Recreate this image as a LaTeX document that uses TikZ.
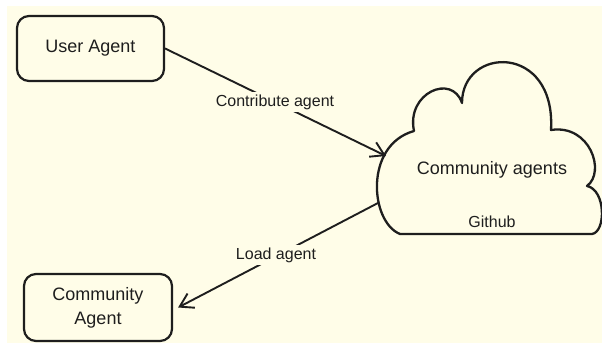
\documentclass[tikz,border=0pt]{standalone}
\usepackage{fontspec}
\setmainfont{Liberation Sans}
\usetikzlibrary{arrows.meta}
\definecolor{cream}{RGB}{255,253,232}
\definecolor{ink}{RGB}{30,30,30}
\begin{document}
\begin{tikzpicture}[x=1pt,y=-1pt,
  boxnode/.style={draw=ink, line width=2.2pt, rounded corners=12pt, align=center,
    font=\fontsize{18}{24}\selectfont, text=ink, inner sep=0pt},
  maintext/.style={font=\fontsize{18}{22}\selectfont, text=ink, inner sep=0pt},
  lbl/.style={fill=cream, font=\fontsize{16}{18}\selectfont, text=ink, inner sep=3pt},
  conn/.style={draw=ink, line width=1.9pt, line cap=round,
    -{Straight Barb[length=13pt,width=16pt,line width=1.9pt]}},
  cloudline/.style={draw=ink, line width=2.3pt, line join=round}]
\useasboundingbox (0,0) rectangle (602,347);
\fill[white] (0,0) rectangle (602,347);
\fill[cream] (7,6) rectangle (602,343);

% boxes
\node[boxnode, minimum width=147pt, minimum height=65pt] (ua) at (90.5,48.5) {User Agent};
\node[boxnode, minimum width=148pt, minimum height=67pt] (ca) at (98,307.5) {Community\\Agent};

% cloud
\draw[cloudline] (400,234)
  .. controls (370,222) and (364,145) .. (414,131)
  .. controls (406,93) and (452,73) .. (462,103)
  .. controls (462,46) and (556,43) .. (551,130)
  .. controls (590,124) and (606,172) .. (587,186)
  .. controls (606,190) and (606,232) .. (592,234)
  -- cycle;
\node[maintext] (cloud) at (492,170) {Community agents};
\node[font=\fontsize{16}{18}\selectfont, text=ink, inner sep=0pt] (github) at (492,222) {Github};
\coordinate (cloudin) at (386,156);
\coordinate (cloudout) at (378,203);

% connectors
\draw[conn] (ua.east) -- (cloudin);
\draw[conn] (cloudout) -- ([xshift=5pt]ca.east);
\node[lbl] (contrib) at (275,102) {Contribute agent};
\node[lbl] (load) at (276,255) {Load agent};
\end{tikzpicture}
\end{document}
